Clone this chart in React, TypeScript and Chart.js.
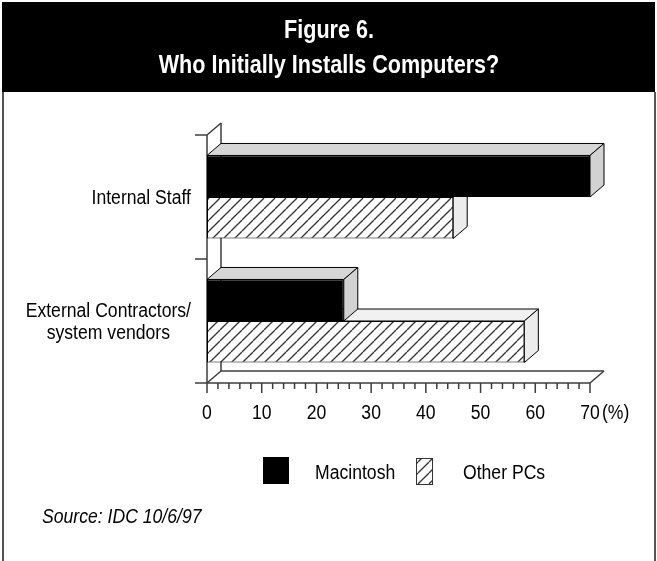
import React, { useEffect, useRef } from "react";
import { Chart, registerables } from "chart.js";
Chart.register(...registerables);

// ---------- data ----------
const categories: string[][] = [["Internal Staff"], ["External Contractors/", "system vendors"]];
const seriesNames = ["Macintosh", "Other PCs"];
const macintosh = [70, 25];
const otherPCs = [45, 58];
const xTickValues = [0, 10, 20, 30, 40, 50, 60, 70];
const xMinorStep = 2;
const unitLabel = "(%)";
const titleLines = ["Figure 6.", "Who Initially Installs Computers?"];
const sourceText = "Source: IDC 10/6/97";

// ---------- style ----------
const FONT = "'Liberation Sans', Arial, sans-serif";
const NARROW = 0.88;
const DX = 14;
const DY = -12;
const AXIS = "#3c3c3c";
const faceColors = [
  ["#d6d6d6", "#d2d2d2"],
  ["#f1f1f1", "#ececec"],
];

function makeHatch(): CanvasPattern | string {
  const s = 11;
  const c = document.createElement("canvas");
  c.width = s;
  c.height = s;
  const g = c.getContext("2d");
  if (!g) return "#fff";
  g.fillStyle = "#fff";
  g.fillRect(0, 0, s, s);
  g.strokeStyle = "#333";
  g.lineWidth = 1.3;
  for (const k of [-s, 0, s]) {
    g.beginPath();
    g.moveTo(k, s);
    g.lineTo(k + s, 0);
    g.stroke();
  }
  return g.createPattern(c, "repeat") || "#fff";
}

function line(ctx: CanvasRenderingContext2D, x1: number, y1: number, x2: number, y2: number) {
  ctx.beginPath();
  ctx.moveTo(x1, y1);
  ctx.lineTo(x2, y2);
  ctx.stroke();
}

// condensed text: real text, horizontally compressed
function txt(
  ctx: CanvasRenderingContext2D,
  s: string,
  x: number,
  y: number,
  align: CanvasTextAlign,
  sx: number = NARROW
) {
  ctx.save();
  ctx.translate(x, y);
  ctx.scale(sx, 1);
  ctx.textAlign = align;
  ctx.textBaseline = "alphabetic";
  ctx.fillText(s, 0, 0);
  ctx.restore();
}

export default function App() {
  const ref = useRef<HTMLCanvasElement>(null);

  useEffect(() => {
    const hatch = makeHatch();
    const fills = ["#000000", hatch];

    const framePlugin = {
      id: "frame",
      beforeDraw(chart: any) {
        const ctx = chart.ctx as CanvasRenderingContext2D;
        const W = chart.width;
        const H = chart.height;
        ctx.save();
        ctx.fillStyle = "#fff";
        ctx.fillRect(0, 0, W, H);
        ctx.fillStyle = "#000";
        ctx.fillRect(2, 2, W - 4, 90);
        ctx.strokeStyle = "#555";
        ctx.lineWidth = 2;
        line(ctx, 3, 92, 3, H);
        line(ctx, W - 2, 92, W - 2, H);
        ctx.fillStyle = "#fff";
        ctx.font = `bold 26px ${FONT}`;
        txt(ctx, titleLines[0], 329, 38, "center", 0.83);
        txt(ctx, titleLines[1], 329, 73, "center", 0.83);
        ctx.restore();
      },
      beforeDatasetsDraw(chart: any) {
        const ctx = chart.ctx as CanvasRenderingContext2D;
        const xs = chart.scales.x;
        const ys = chart.scales.y;
        const x0 = xs.getPixelForValue(xTickValues[0]);
        const x1 = xs.getPixelForValue(xTickValues[xTickValues.length - 1]);
        const top = chart.chartArea.top;
        const bot = chart.chartArea.bottom;
        ctx.save();
        ctx.strokeStyle = AXIS;
        ctx.lineWidth = 1.5;
        // back wall
        line(ctx, x0 + DX, top + DY, x0 + DX, bot + DY);
        line(ctx, x0, top, x0 + DX, top + DY);
        // floor
        line(ctx, x0 + DX, bot + DY, x1 + DX, bot + DY);
        line(ctx, x0, bot, x0 + DX, bot + DY);
        line(ctx, x1, bot, x1 + DX, bot + DY);
        // front axes
        line(ctx, x0, top, x0, bot);
        line(ctx, x0 - 12, bot, x1, bot);
        // category boundary ticks
        const bounds = [top];
        for (let i = 0; i < categories.length - 1; i++) {
          bounds.push((ys.getPixelForValue(i) + ys.getPixelForValue(i + 1)) / 2);
        }
        bounds.forEach((b) => line(ctx, x0 - 12, b, x0, b));
        // x ticks
        const vmin = xTickValues[0];
        const vmax = xTickValues[xTickValues.length - 1];
        for (let v = vmin; v <= vmax; v += xMinorStep) {
          const px = xs.getPixelForValue(v);
          const major = xTickValues.includes(v);
          line(ctx, px, bot, px, bot + (major ? 10 : 6));
        }
        ctx.restore();
      },
      beforeDatasetDraw(chart: any, args: any) {
        const ctx = chart.ctx as CanvasRenderingContext2D;
        const [topC, sideC] = faceColors[args.index];
        ctx.save();
        ctx.strokeStyle = "#000";
        ctx.lineWidth = 1;
        ctx.lineJoin = "miter";
        args.meta.data.forEach((el: any) => {
          const p = el.getProps(["x", "y", "base", "height"], true);
          const l = Math.min(p.x, p.base);
          const r = Math.max(p.x, p.base);
          const t = p.y - p.height / 2;
          const b = p.y + p.height / 2;
          // top face
          ctx.beginPath();
          ctx.moveTo(l, t);
          ctx.lineTo(l + DX, t + DY);
          ctx.lineTo(r + DX, t + DY);
          ctx.lineTo(r, t);
          ctx.closePath();
          ctx.fillStyle = topC;
          ctx.fill();
          ctx.stroke();
          // side face
          ctx.beginPath();
          ctx.moveTo(r, t);
          ctx.lineTo(r + DX, t + DY);
          ctx.lineTo(r + DX, b + DY);
          ctx.lineTo(r, b);
          ctx.closePath();
          ctx.fillStyle = sideC;
          ctx.fill();
          ctx.stroke();
        });
        ctx.restore();
      },
      afterDraw(chart: any) {
        const ctx = chart.ctx as CanvasRenderingContext2D;
        const xs = chart.scales.x;
        const ys = chart.scales.y;
        const x0 = xs.getPixelForValue(xTickValues[0]);
        const x1 = xs.getPixelForValue(xTickValues[xTickValues.length - 1]);
        const bot = chart.chartArea.bottom;
        ctx.save();
        ctx.fillStyle = "#000";
        ctx.font = `20px ${FONT}`;
        // x tick labels
        xTickValues.forEach((v) => {
          txt(ctx, String(v), xs.getPixelForValue(v), bot + 36, "center");
        });
        txt(ctx, unitLabel, x1 + 12, bot + 36, "left");
        // category labels: block right-aligned, lines centred
        const right = x0 - 16;
        categories.forEach((lines, i) => {
          const cy = ys.getPixelForValue(i);
          const maxW = Math.max(...lines.map((s) => ctx.measureText(s).width * NARROW));
          lines.forEach((s, j) => {
            const ly = cy + (j - (lines.length - 1) / 2) * 22 + 7;
            txt(ctx, s, right - maxW / 2, ly, "center");
          });
        });
        // legend
        const ds = chart.data.datasets;
        ctx.fillStyle = ds[0].backgroundColor;
        ctx.fillRect(263, 457, 26, 27);
        ctx.fillStyle = "#000";
        txt(ctx, ds[0].label, 315, 479, "left");
        ctx.fillStyle = ds[1].backgroundColor;
        ctx.fillRect(416, 458, 16, 26);
        ctx.strokeStyle = "#333";
        ctx.lineWidth = 1;
        ctx.strokeRect(416.5, 458.5, 16, 26);
        ctx.fillStyle = "#000";
        txt(ctx, ds[1].label, 463, 479, "left");
        // source
        ctx.font = `italic 20px ${FONT}`;
        txt(ctx, sourceText, 42, 523, "left");
        ctx.restore();
      },
    };

    const chart = new Chart(ref.current as HTMLCanvasElement, {
      type: "bar",
      data: {
        labels: categories,
        datasets: [
          {
            label: seriesNames[0],
            data: macintosh,
            backgroundColor: fills[0] as any,
            borderColor: "#000",
            borderWidth: 1,
            borderSkipped: false,
            categoryPercentage: 0.67,
            barPercentage: 1.0,
          },
          {
            label: seriesNames[1],
            data: otherPCs,
            backgroundColor: fills[1] as any,
            borderColor: "#000",
            borderWidth: 1,
            borderSkipped: false,
            categoryPercentage: 0.67,
            barPercentage: 1.0,
          },
        ],
      },
      options: {
        indexAxis: "y",
        responsive: false,
        animation: false,
        devicePixelRatio: 1,
        events: [],
        layout: { padding: { left: 207, right: 67, top: 135, bottom: 178 } },
        scales: {
          x: { type: "linear", min: xTickValues[0], max: xTickValues[xTickValues.length - 1], display: false },
          y: { type: "category", display: false, offset: true },
        },
        plugins: {
          legend: { display: false },
          title: { display: false },
          tooltip: { enabled: false },
        },
      },
      plugins: [framePlugin],
    } as any);
    return () => chart.destroy();
  }, []);

  return (
    <div style={{ position: "absolute", left: 0, top: 0, width: 657, height: 561 }}>
      <canvas ref={ref} width={657} height={561} style={{ display: "block" }} />
    </div>
  );
}
